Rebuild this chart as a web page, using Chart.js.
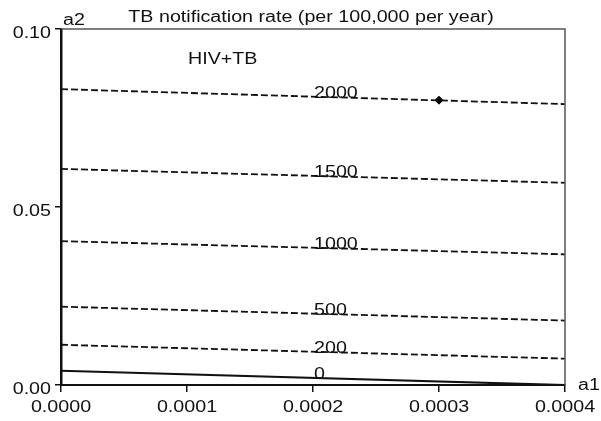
<!DOCTYPE html>
<html>
<head>
<meta charset="utf-8">
<script src="https://cdn.jsdelivr.net/npm/chart.js@4"></script>
<style>
  html, body { margin: 0; padding: 0; background: #fff; }
  #wrap { width: 601px; height: 421px; }
</style>
</head>
<body>
<div id="wrap"><canvas id="chart" width="601" height="421"></canvas></div>
<script>
// contour levels and the end points (at a1 = 0 and a1 = 0.0004) of each line
const levels = ["2000", "1500", "1000", "500", "200", "0"];
const a1Ends = [0, 0.0004];
const a2Left = [0.0831, 0.0607, 0.0404, 0.0220, 0.0113, 0.0040];
const a2Right = [0.0789, 0.0568, 0.0367, 0.0181, 0.0074, 0.0000];
const marker = { a1: 0.0003, a2: 0.080 };
const xTicks = [0, 0.0001, 0.0002, 0.0003, 0.0004];
const yTicks = [0, 0.05, 0.10];
const labelA1 = 0.0002;

const FONT = "16px 'Liberation Sans', Arial, Helvetica, sans-serif";
const SX = 1.23; // the original lettering is a bit wider than Arial

const datasets = levels.map(function (lvl, i) {
    return {
        label: lvl,
        data: [{ x: a1Ends[0], y: a2Left[i] }, { x: a1Ends[1], y: a2Right[i] }],
        showLine: true,
        borderColor: "#111",
        borderWidth: lvl === "0" ? 2.2 : 1.8,
        borderDash: lvl === "0" ? [] : [7, 3],
        pointRadius: 0
    };
});
datasets.push({
    label: "point",
    data: [{ x: marker.a1, y: marker.a2 }],
    pointStyle: "rectRot",
    pointRadius: 4,
    backgroundColor: "#000",
    borderColor: "#000"
});

function txt(c, s, x, y, align) {
    c.save();
    c.translate(x, y);
    c.scale(SX, 1);
    c.textAlign = align;
    c.textBaseline = "alphabetic";
    c.fillText(s, 0, 0);
    c.restore();
}

const textPlugin = {
    id: "texts",
    afterDraw(chart) {
        const c = chart.ctx, a = chart.chartArea;
        const xs = chart.scales.x, ys = chart.scales.y;
        c.save();
        // top and right frame
        c.strokeStyle = "#555";
        c.lineWidth = 1.5;
        c.beginPath();
        c.moveTo(a.left, a.top);
        c.lineTo(a.right, a.top);
        c.lineTo(a.right, a.bottom);
        c.stroke();

        c.fillStyle = "#111";
        c.font = FONT;
        // tick labels
        xTicks.forEach(v => txt(c, v.toFixed(4), xs.getPixelForValue(v), a.bottom + 26.5, "center"));
        yTicks.forEach(v => txt(c, v.toFixed(2), a.left - 10, ys.getPixelForValue(v) + 8.5, "right"));
        // contour labels
        levels.forEach(function (lvl, i) {
            const t = (labelA1 - a1Ends[0]) / (a1Ends[1] - a1Ends[0]);
            const yv = a2Left[i] + (a2Right[i] - a2Left[i]) * t;
            txt(c, lvl, xs.getPixelForValue(labelA1) + 1, ys.getPixelForValue(yv) + 1, "left");
        });
        txt(c, "HIV+TB", a.left + 127, a.top + 35, "left");
        txt(c, "TB notification rate (per 100,000 per year)", (a.left + a.right) / 2 - 2, 22, "center");
        txt(c, "a2", a.left + 2, 25, "left");
        txt(c, "a1", a.right + 13, a.bottom + 5, "left");
        c.restore();
    }
};

new Chart(document.getElementById("chart").getContext("2d"), {
    type: "scatter",
    data: { datasets: datasets },
    options: {
        responsive: false,
        animation: false,
        layout: { padding: { top: 29, right: 36, left: 0, bottom: 0 } },
        plugins: { legend: { display: false }, tooltip: { enabled: false } },
        scales: {
            x: {
                type: "linear",
                min: 0,
                max: 0.0004,
                afterBuildTicks(s) { s.ticks = xTicks.map(v => ({ value: v })); },
                afterFit(s) { s.height = 36; },
                grid: { drawOnChartArea: false, drawTicks: true, tickLength: 7, color: "#111", lineWidth: 1.5 },
                border: { color: "#111", width: 2 },
                ticks: { display: false }
            },
            y: {
                type: "linear",
                min: 0,
                max: 0.1,
                afterBuildTicks(s) { s.ticks = yTicks.map(v => ({ value: v })); },
                afterFit(s) { s.width = 61; },
                grid: { drawOnChartArea: false, drawTicks: true, tickLength: 6, color: "#111", lineWidth: 1.5 },
                border: { color: "#111", width: 2.5 },
                ticks: { display: false }
            }
        }
    },
    plugins: [textPlugin]
});
</script>
</body>
</html>
